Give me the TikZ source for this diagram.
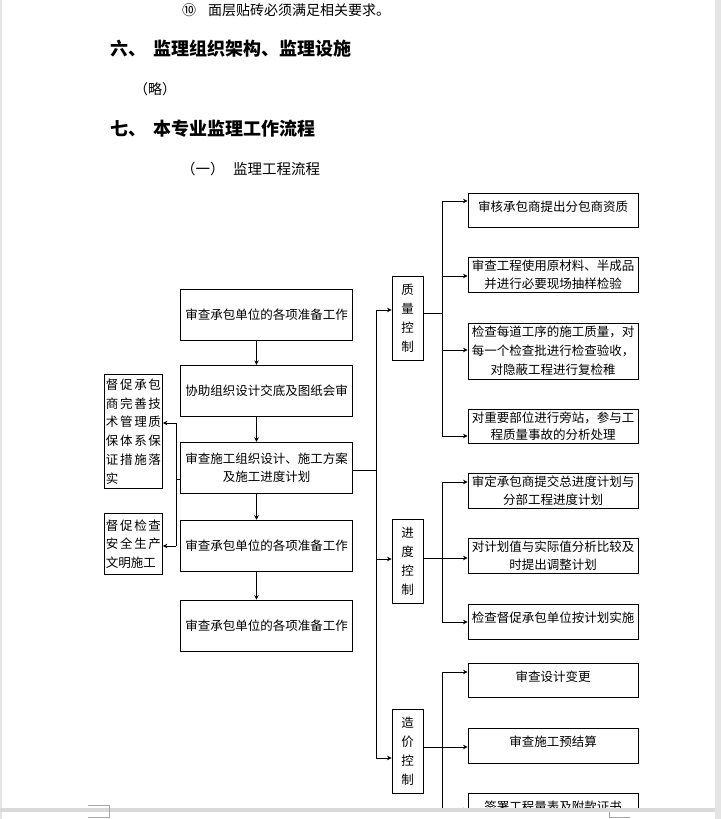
\documentclass[tikz,border=0pt]{standalone}
\usepackage{fontspec}
\setmainfont{Noto Sans CJK SC}
\usepackage{xcolor}
\usetikzlibrary{arrows.meta,positioning,calc}
\definecolor{bandGray}{HTML}{D9D9D9}
\definecolor{edgeGray}{HTML}{E4E4E4}
\definecolor{markGray}{HTML}{A6A6A6}
\tikzset{
  taskbox/.style={draw, line width=0.9pt, align=center, minimum width=172pt, minimum height=51pt, inner sep=2pt, font=\fontsize{12.5}{18.3}\selectfont},
  itembox/.style={taskbox, minimum width=170pt, minimum height=35pt},
  topbox/.style={itembox, text depth=8pt},
  ctrlbox/.style={draw, line width=0.9pt, align=center, minimum width=31pt, minimum height=84pt, inner sep=1pt, font=\fontsize{12.5}{19}\selectfont},
  sidebox/.style={draw, line width=0.9pt, align=left, text width=55pt, inner sep=1.5pt, anchor=north west, font=\fontsize{12.5}{18.7}\selectfont},
  flow/.style={-{Stealth[length=4.5pt,width=4.5pt]}, line width=0.8pt},
  link/.style={line width=0.8pt},
  heading/.style={anchor=west, inner sep=0pt, font=\bfseries\fontsize{18}{20}\selectfont},
  bodytext/.style={anchor=west, inner sep=0pt, font=\fontsize{14}{16}\selectfont}
}
\begin{document}
\begin{tikzpicture}[x=1pt, y=-1pt]
  \useasboundingbox (0,0) rectangle (721,819);
  \fill[white] (0,0) rectangle (721,819);
  \begin{scope}
  \clip (0,0) rectangle (721,808);
  % document text above the chart
  \node[bodytext] (req) at (182,10) {⑩\hspace{12pt}面层贴砖必须满足相关要求。};
  \node[heading] (sec6) at (110,49) {六、\hspace{7pt}监理组织架构、监理设施};
  \node[bodytext] (omit) at (134,89) {（略）};
  \node[heading] (sec7) at (110,129) {七、\hspace{7pt}本专业监理工作流程};
  \node[bodytext, font=\fontsize{14.5}{16}\selectfont] (sub1) at (181,169) {（一）\hspace{8.5pt}监理工程流程};

  % main column
  \node[taskbox] (prep) at (266.5,315) {审查承包单位的各项准备工作};
  \node[taskbox, below=24pt of prep] (brief) {协助组织设计交底及图纸会审};
  \node[taskbox, below=25pt of brief] (plan) {审查施工组织设计、施工方案\\及施工进度计划};
  \node[taskbox, below=26pt of plan] (prepb) {审查承包单位的各项准备工作};
  \node[taskbox, below=28pt of prepb] (prepc) {审查承包单位的各项准备工作};
  \draw[flow] ([xshift=-10pt]prep.south) -- ([xshift=-10pt]brief.north);
  \draw[flow] ([xshift=-10pt]brief.south) -- ([xshift=-10pt]plan.north);
  \draw[flow] ([xshift=-10pt]plan.south) -- ([xshift=-10pt]prepb.north);
  \draw[flow] ([xshift=-10pt]prepb.south) -- ([xshift=-10pt]prepc.north);

  % left side
  \node[sidebox, minimum height=114pt] (qsys) at (104,374) {\makebox[55pt][s]{督\hfill 促\hfill 承\hfill 包}\\\makebox[55pt][s]{商\hfill 完\hfill 善\hfill 技}\\\makebox[55pt][s]{术\hfill 管\hfill 理\hfill 质}\\\makebox[55pt][s]{保\hfill 体\hfill 系\hfill 保}\\\makebox[55pt][s]{证\hfill 措\hfill 施\hfill 落}\\实};
  \node[sidebox, minimum height=61pt] (safe) at (104,513) {\makebox[55pt][s]{督\hfill 促\hfill 检\hfill 查}\\\makebox[55pt][s]{安\hfill 全\hfill 生\hfill 产}\\文明施工};
  \coordinate (ltop) at (176,423);
  \coordinate (lbot) at (176,546);
  \draw[link] ([yshift=-11.5pt]plan.west) -| (ltop);
  \draw[link] ([yshift=-11.5pt]plan.west) -| (lbot);
  \draw[flow] (ltop) -- (ltop -| qsys.east);
  \draw[flow] (lbot) -- (lbot -| safe.east);

  % control branches
  \node[ctrlbox] (qual) at (407.5,318) {质\\量\\控\\制};
  \node[ctrlbox] (sched) at (407.5,561.5) {进\\度\\控\\制};
  \node[ctrlbox] (cost) at (407.5,751) {造\\价\\控\\制};
  \coordinate (rtop) at (376,310);
  \coordinate (rmid) at (376,559);
  \coordinate (rbot) at (376,758);
  \draw[link] ([yshift=-2.5pt]plan.east) -| (rtop);
  \draw[link] (rtop) -- (rbot);
  \draw[flow] (rtop) -- (rtop -| qual.west);
  \draw[flow] (rmid) -- (rmid -| sched.west);
  \draw[flow] (rbot) -- (rbot -| cost.west);

  % quality items
  \node[topbox, minimum height=34pt] (sub) at (553,210) {审核承包商提出分包商资质};
  \node[itembox] (mat) at (553,274.5) {审查工程使用原材料、半成品\\并进行必要现场抽样检验};
  \node[itembox, minimum height=56pt, font=\fontsize{12.5}{19}\selectfont] (proc) at (553,351) {检查每道工序的施工质量，对\\每一个检查批进行检查验收，\\对隐蔽工程进行复检稚};
  \node[itembox, minimum height=34pt, font=\fontsize{12.5}{17.5}\selectfont] (site) at (553,426) {对重要部位进行旁站，参与工\\程质量事故的分析处理};
  \coordinate (qj) at (442,313);
  \coordinate (qa) at (442,201);
  \coordinate (qb) at (442,276);
  \coordinate (qc) at (442,350);
  \coordinate (qd) at (442,436);
  \draw[link] (qual.east |- qj) -- (qj);
  \draw[link] (qa) -- (qd);
  \draw[flow] (qa) -- (qa -| sub.west);
  \draw[flow] (qb) -- (qb -| mat.west);
  \draw[flow] (qc) -- (qc -| proc.west);
  \draw[flow] (qd) -- (qd -| site.west);

  % schedule items
  \node[itembox] (total) at (553,490.5) {审定承包商提交总进度计划与\\分部工程进度计划};
  \node[itembox] (comp) at (553,555.5) {对计划值与实际值分析比较及\\时提出调整计划};
  \node[topbox] (exec) at (553,621.5) {检查督促承包单位按计划实施};
  \coordinate (sj) at (442,558);
  \coordinate (sa) at (442,482);
  \coordinate (sc) at (442,622);
  \draw[link] (sched.east |- sj) -- (sj);
  \draw[link] (sa) -- (sc);
  \draw[flow] (sa) -- (sa -| total.west);
  \draw[flow] (sj) -- (sj -| comp.west);
  \draw[flow] (sc) -- (sc -| exec.west);

  % cost items
  \node[topbox, minimum height=34pt] (chg) at (553,680) {审查设计变更};
  \node[topbox] (budget) at (553,745.5) {审查施工预结算};
  \node[topbox, minimum height=34pt] (qty) at (553,810) {签署工程量表及附款证书};
  \coordinate (cj) at (442,747);
  \coordinate (ca) at (442,672);
  \coordinate (cc) at (442,810);
  \draw[link] (cost.east |- cj) -- (cj);
  \draw[link] (ca) -- (cc);
  \draw[flow] (ca) -- (ca -| chg.west);
  \draw[flow] (cj) -- (cj -| budget.west);
  \draw[flow] (cc) -- (cc -| qty.west);
  \end{scope}

  % page edges
  \fill[edgeGray] (715,0) rectangle (721,819);
  \draw[edgeGray, line width=1.5pt] (0.75,0) -- (0.75,819);
  \fill[bandGray] (0,808) rectangle (715,812);
  \draw[markGray, line width=0.6pt] (88,805) -- (109,805) -- (109,817) -- (88,817);
  \draw[markGray, line width=0.6pt] (609,812) -- (609,817) -- (630,817);
\end{tikzpicture}
\end{document}
